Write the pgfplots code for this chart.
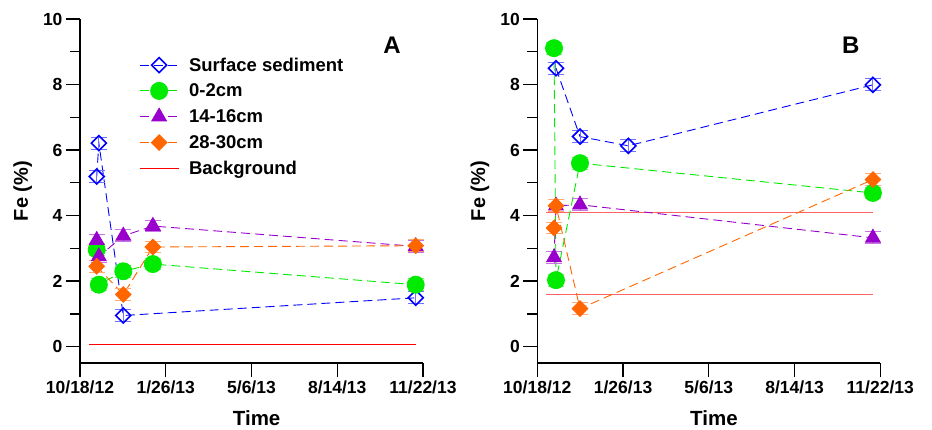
\documentclass[border=0pt]{standalone}
\usepackage{fontspec}
\setmainfont{Liberation Sans}
\usepackage{pgfplots}
\pgfplotsset{compat=1.18}
\definecolor{cblue}{RGB}{0,0,255}
\definecolor{cgreen}{RGB}{0,235,0}
\definecolor{cpurple}{RGB}{153,0,204}
\definecolor{corange}{RGB}{255,102,0}
\definecolor{cred}{RGB}{255,0,0}
\definecolor{cpink}{RGB}{255,100,100}
\pgfplotsset{
 panel/.style={
  scale only axis, width=343pt, height=344pt,
  xmin=0, xmax=400, ymin=-0.5, ymax=10,
  axis x line*=bottom, axis y line*=left,
  axis line style={line width=1.3pt, -},
  xtick={0,100,200,300,400},
  xticklabels={10/18/12,1/26/13,5/6/13,8/14/13,11/22/13},
  ytick={0,2,...,10}, minor ytick={1,3,5,7,9},
  tick align=outside, major tick length=14pt, minor tick length=10pt,
  every tick/.style={black, line width=1.3pt},
  every minor tick/.style={black, line width=1.3pt},
  tick label style={font=\fontsize{17.5}{17.5}\selectfont\bfseries},
  /pgf/number format/assume math mode=true,
  xlabel={Time}, ylabel={Fe (\%)},
  every axis y label/.style={at={(axis description cs:-0.167,0.5)}, rotate=90, anchor=center, font=\fontsize{20}{20}\selectfont\bfseries},
  every axis x label/.style={at={(axis description cs:0.515,-0.16)}, anchor=center, font=\fontsize{20.5}{20.5}\selectfont\bfseries},
  clip=false,
  legend image code/.code={\draw[mark repeat=2,mark phase=2] plot coordinates {(0pt,0pt)(19.5pt,0pt)(39pt,0pt)};},
 },
 dline/.style={line width=0.9pt, dash pattern=on 9pt off 5pt},
 ebar/.style={error bars/.cd, y dir=both, y fixed=0.18,
   error bar style={solid, #1!55, line width=1pt},
   error mark options={rotate=90, mark size=8pt, #1!55, line width=1pt, solid}},
 ss/.style={cblue, dline, mark=square, mark size=5.3pt, mark options={rotate=45, solid, line width=1.6pt, fill=none}, ebar=cblue},
 gg/.style={cgreen, dline, mark=*, mark size=8.5pt, mark options={solid, draw=cgreen, fill=cgreen}, ebar=cgreen},
 pp/.style={cpurple, dline, mark=triangle*, mark size=8.5pt, mark options={solid, draw=cpurple, fill=cpurple}, ebar=cpurple},
 oo/.style={corange, dline, mark=square*, mark size=5.5pt, mark options={rotate=45, solid, draw=corange, fill=corange}, ebar=corange},
}
\begin{document}
\begin{tikzpicture}
\path[use as bounding box] (0,0) rectangle (932pt,429pt);
\begin{axis}[panel, at={(80pt,66pt)}, anchor=south west,
  legend style={draw=none, fill=none, at={(axis description cs:0.172,0.904)}, anchor=north west,
    inner sep=0pt, row sep=0pt,
    nodes={inner sep=0pt, minimum height=25.8pt, font=\fontsize{18.5}{18.5}\selectfont\bfseries}},
  legend cell align=left,
  legend columns=1,
  /tikz/every odd column/.style={column sep=10pt},
]
\addplot[ss] coordinates {(19.5,5.19) (22,6.21) (50.5,0.95) (391.5,1.49)};
\addlegendentry{Surface sediment}
\addplot[gg] coordinates {(19.5,2.96) (22,1.89) (50.5,2.30) (85,2.52) (391.5,1.89)};
\addlegendentry{0-2cm}
\addplot[pp] coordinates {(19.5,3.25) (22,2.75) (50.5,3.38) (85,3.68) (391.5,3.06)};
\addlegendentry{14-16cm}
\addplot[oo] coordinates {(19.5,2.45) (50.5,1.59) (85,3.04) (391.5,3.08)};
\addlegendentry{28-30cm}
\addplot[cred, line width=0.8pt, mark=none] coordinates {(10.8,0.08) (391.5,0.08)};
\addlegendentry{Background}
\node[font=\fontsize{24}{24}\selectfont\bfseries] at (axis cs:364,9.2) {A};
\end{axis}
\begin{axis}[panel, at={(537.3pt,66pt)}, anchor=south west]
\addplot[cpink, line width=1.2pt, mark=none, forget plot] coordinates {(10.2,4.10) (392,4.10)};
\addplot[cpink, line width=1.2pt, mark=none, forget plot] coordinates {(10.2,1.59) (392,1.59)};
\addplot[ss] coordinates {(21.8,8.50) (49.8,6.41) (106.2,6.13) (391.4,7.99)};
\addplot[gg] coordinates {(19.5,9.11) (21.8,2.03) (49.8,5.60) (391.4,4.69)};
\addplot[pp] coordinates {(19.5,2.72) (21.8,4.30) (49.8,4.33) (391.4,3.32)};
\addplot[oo] coordinates {(19.5,3.62) (21.8,4.30) (49.8,1.16) (391.4,5.10)};
\node[font=\fontsize{24}{24}\selectfont\bfseries] at (axis cs:365.7,9.2) {B};
\end{axis}
\end{tikzpicture}
\end{document}
